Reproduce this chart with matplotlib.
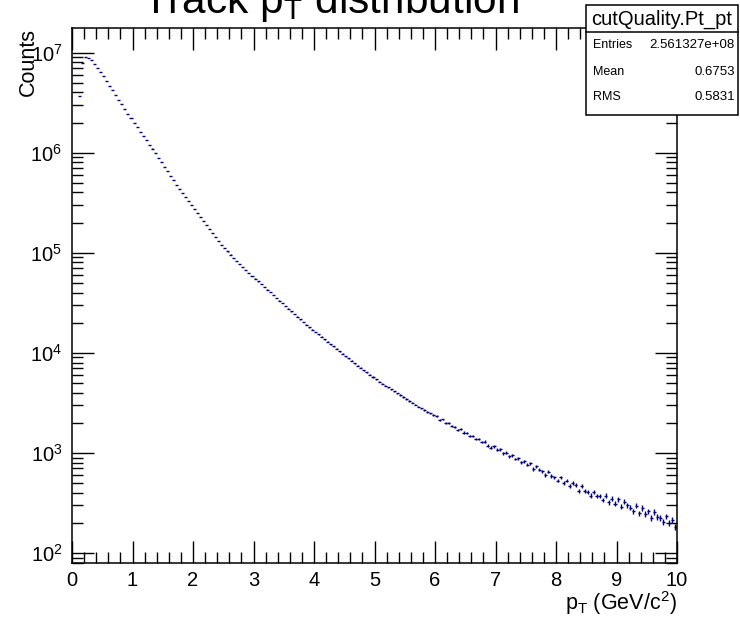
import numpy as np
import matplotlib
matplotlib.use("Agg")
import matplotlib.pyplot as plt
from matplotlib.patches import Rectangle
from matplotlib.lines import Line2D
from matplotlib.ticker import MultipleLocator, LogLocator, FuncFormatter, NullFormatter

plt.rcParams['font.family'] = ['Liberation Sans', 'DejaVu Sans']
plt.rcParams['mathtext.fontset'] = 'custom'
plt.rcParams['mathtext.rm'] = 'Liberation Sans'
plt.rcParams['mathtext.it'] = 'Liberation Sans:italic'
plt.rcParams['mathtext.bf'] = 'Liberation Sans:bold'

# ---------------- data ----------------
title = r"Track p$_\mathregular{T}$ distribution"
x_label = r"p$_\mathregular{T}$ (GeV/c$^\mathregular{2}$)"
y_label = "Counts"
hist_name = "cutQuality.Pt_pt"
stat_names = ["Entries", "Mean", "RMS"]
stat_values = ["2.561327e+08", "0.6753", "0.5831"]

pt_min, pt_max, n_bins = 0.0, 10.0, 200
x_ticks = [0, 1, 2, 3, 4, 5, 6, 7, 8, 9, 10]

counts = [
    0, 0, 3720000, 7940000, 9020000, 8910000, 8410000, 7760000, 7080000, 6460000,
    5820000, 5250000, 4680000, 4220000, 3800000, 3390000, 3050000, 2750000, 2450000, 2210000,
    2000000, 1800000, 1620000, 1480000, 1330000, 1200000, 1100000, 989000, 891000, 804000,
    724000, 653000, 589000, 531000, 479000, 432000, 394000, 359000, 327000, 299000,
    272000, 248000, 226000, 207000, 188000, 172000, 157000, 143000, 130000, 120000,
    111000, 103000, 95900, 89100, 83000, 77300, 72100, 67300, 63000, 58900,
    55200, 51800, 48600, 45700, 42900, 40300, 37800, 35500, 33300, 31300,
    29400, 27700, 26000, 24400, 23000, 21600, 20300, 19100, 18000, 17100,
    16100, 15300, 14500, 13700, 12900, 12200, 11600, 11000, 10400, 9820,
    9290, 8790, 8320, 7870, 7460, 7080, 6710, 6370, 6040, 5730,
    5430, 5150, 4920, 4710, 4510, 4320, 4130, 3950, 3780, 3620,
    3470, 3320, 3180, 3040, 2910, 2790, 2680, 2580, 2480, 2380,
    2340, 2150, 2160, 1990, 2010, 1850, 1830, 1710, 1720, 1600,
    1590, 1480, 1470, 1380, 1370, 1290, 1300, 1180, 1130, 1160,
    1080, 1090, 990, 1010, 930, 945, 870, 880, 810, 830,
    760, 790, 690, 735, 680, 655, 600, 650, 590, 570,
    530, 570, 505, 530, 465, 500, 480, 420, 465, 415,
    410, 375, 410, 370, 370, 340, 375, 320, 350, 310,
    345, 290, 325, 300, 285, 262, 298, 250, 282, 245,
    262, 226, 258, 230, 225, 205, 232, 200, 212, 182,
]

# ---------------- figure ----------------
W, H = 740, 618
fig = plt.figure(figsize=(W / 100, H / 100), dpi=100)
fig.patch.set_facecolor("white")

ax_l, ax_r, ax_t, ax_b = 72, 677, 28, 563
ax = fig.add_axes([ax_l / W, 1 - ax_b / H, (ax_r - ax_l) / W, (ax_b - ax_t) / H])

edges = np.linspace(pt_min, pt_max, n_bins + 1)
centers = 0.5 * (edges[:-1] + edges[1:])
halfw = 0.5 * (edges[1:] - edges[:-1])
c = np.asarray(counts, dtype=float)
m = c > 0
col = "#000080"
ax.errorbar(centers[m], c[m], xerr=halfw[m], yerr=np.sqrt(c[m]), fmt="none",
            ecolor=col, elinewidth=1.0, capsize=0)

ax.set_yscale("log")
ax.set_xlim(pt_min, pt_max)
ax.set_ylim(79.5, 1.76e7)

ax.set_xticks(x_ticks)
ax.xaxis.set_minor_locator(MultipleLocator(0.2))
ax.yaxis.set_major_locator(LogLocator(base=10, numticks=20))
ax.yaxis.set_minor_locator(LogLocator(base=10, subs=np.arange(2, 10), numticks=20))
ax.yaxis.set_minor_formatter(NullFormatter())
ax.yaxis.set_major_formatter(FuncFormatter(lambda v, p: r"$\mathregular{10^{%d}}$" % round(np.log10(v))))

ax.tick_params(which="both", direction="in", top=True, right=True, width=1, labelsize=14.5)
ax.tick_params(which="major", length=16)
ax.tick_params(which="minor", length=8)
ax.tick_params(axis="x", which="major", pad=6)
ax.tick_params(axis="y", which="major", pad=7)
for s in ax.spines.values():
    s.set_linewidth(1.1)

# title & axis labels
fig.text(330 / W, 1 - 13 / H, title, ha="center", va="baseline", fontsize=30.5)
fig.text(28 / W, 1 - ax_t / H, y_label, rotation=90, ha="center", va="top", fontsize=15.5)
fig.text(ax_r / W, 1 - 610 / H, x_label, ha="right", va="baseline", fontsize=15.5)

# stats box
bx0, bx1, by0, by1, bsep = 586, 738, 5, 115, 32
fig.add_artist(Rectangle((bx0 / W, 1 - by1 / H), (bx1 - bx0) / W, (by1 - by0) / H,
                         transform=fig.transFigure, facecolor="white", edgecolor="black",
                         linewidth=1.1, zorder=5))
fig.add_artist(Line2D([bx0 / W, bx1 / W], [1 - bsep / H, 1 - bsep / H],
                      transform=fig.transFigure, color="black", linewidth=1.1, zorder=6))
fig.text((bx0 + bx1) / 2 / W, 1 - 19 / H, hist_name, ha="center", va="center",
         fontsize=14.5, zorder=7)
row_y = [45, 72, 97]
for name, val, yy in zip(stat_names, stat_values, row_y):
    fig.text((bx0 + 7) / W, 1 - yy / H, name, ha="left", va="center", fontsize=9, zorder=7)
    fig.text((bx1 - 3) / W, 1 - yy / H, val, ha="right", va="center", fontsize=9.5, zorder=7)

fig.savefig("out.png", dpi=100)
